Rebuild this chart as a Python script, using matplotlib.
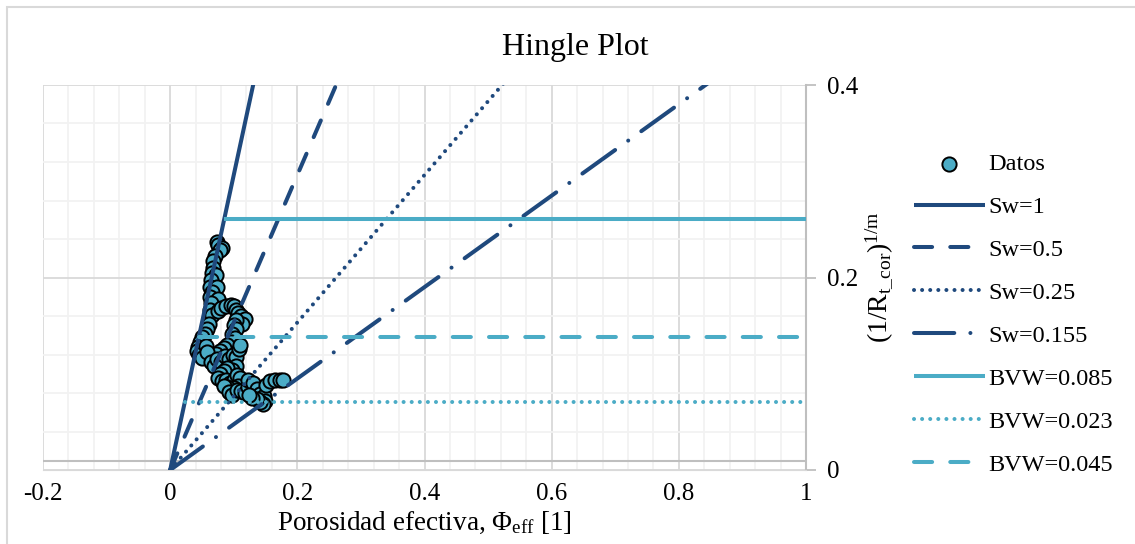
import numpy as np
import matplotlib
matplotlib.use('Agg')
import matplotlib.pyplot as plt
from matplotlib.patches import Rectangle
from matplotlib.ticker import MultipleLocator

plt.rcParams['font.family'] = ['Liberation Serif', 'DejaVu Serif']
plt.rcParams['mathtext.fontset'] = 'custom'
plt.rcParams['mathtext.rm'] = 'Liberation Serif'
plt.rcParams['mathtext.it'] = 'Liberation Serif:italic'

# datos del registro (phi efectiva, (1/Rt)^(1/m))
phi = [0.073, 0.076, 0.081, 0.078, 0.070, 0.068, 0.067, 0.066, 0.072, 0.065,
       0.063, 0.074, 0.066, 0.063, 0.075, 0.065, 0.062, 0.066, 0.075, 0.080,
       0.088, 0.096, 0.101, 0.104, 0.107, 0.112, 0.117, 0.113, 0.104, 0.100,
       0.103, 0.098, 0.102, 0.096, 0.090, 0.084, 0.078, 0.072, 0.061, 0.058,
       0.055, 0.050, 0.047, 0.044, 0.042, 0.045, 0.050, 0.057, 0.058, 0.064,
       0.069, 0.073, 0.080, 0.086, 0.092, 0.099, 0.104, 0.108, 0.110, 0.104,
       0.098, 0.090, 0.084, 0.078, 0.075, 0.081, 0.088, 0.094, 0.100, 0.105,
       0.110, 0.106, 0.100, 0.090, 0.084, 0.092, 0.098, 0.105, 0.112, 0.118,
       0.123, 0.123, 0.130, 0.136, 0.141, 0.147, 0.149, 0.146, 0.141, 0.136,
       0.128, 0.124, 0.150, 0.157, 0.165, 0.172, 0.178]
rt = [0.237, 0.234, 0.231, 0.229, 0.222, 0.217, 0.210, 0.205, 0.203, 0.197,
      0.190, 0.190, 0.185, 0.180, 0.178, 0.173, 0.166, 0.161, 0.165, 0.168,
      0.170, 0.171, 0.170, 0.166, 0.163, 0.160, 0.157, 0.152, 0.156, 0.151,
      0.146, 0.141, 0.137, 0.133, 0.130, 0.127, 0.124, 0.121, 0.152, 0.147,
      0.141, 0.138, 0.133, 0.128, 0.124, 0.119, 0.116, 0.129, 0.123, 0.112,
      0.108, 0.115, 0.112, 0.118, 0.115, 0.120, 0.117, 0.126, 0.130, 0.108,
      0.104, 0.106, 0.103, 0.100, 0.096, 0.092, 0.094, 0.090, 0.094, 0.099,
      0.096, 0.087, 0.085, 0.086, 0.087, 0.081, 0.078, 0.083, 0.082, 0.080,
      0.086, 0.093, 0.090, 0.084, 0.079, 0.077, 0.072, 0.069, 0.071, 0.074,
      0.075, 0.078, 0.088, 0.092, 0.094, 0.093, 0.094]

# lineas de saturacion y BVW
pend = 3.065  # pendiente de Sw=1
sw_vals = [1, 0.5, 0.25, 0.155]
sw_labels = ['Sw=1', 'Sw=0.5', 'Sw=0.25', 'Sw=0.155']
bvw_vals = [0.085, 0.023, 0.045]
bvw_labels = ['BVW=0.085', 'BVW=0.023', 'BVW=0.045']

navy = '#1F497D'
cyan = '#4BACC6'

fig = plt.figure(figsize=(11.35, 5.44), dpi=100)
fig.patches.append(Rectangle((7/1135, -0.1), 1.2, (544-7)/544 + 0.1,
                             transform=fig.transFigure, fill=False,
                             edgecolor='#D9D9D9', lw=1.5))
ax = fig.add_axes([43/1135, (544-470)/544, (806-43)/1135, (470-85)/544])

ax.scatter(phi, rt, s=105, c=cyan, edgecolors='black', linewidths=1.4,
           zorder=3, label='Datos')

styles = [dict(ls='-'),
          dict(dashes=(4.5, 4.5)),
          dict(dashes=(0.01, 2.0)),
          dict(dashes=(10, 4, 0.01, 4))]
lw = 2.9
for sw, lab, st in zip(sw_vals, sw_labels, styles):
    xx = np.array([0, 1])
    ax.plot(xx, pend*sw*xx, color=navy, lw=lw, label=lab, zorder=4,
            dash_capstyle='round', solid_capstyle='butt', **st)

bstyles = [dict(ls='-'), dict(dashes=(0.01, 2.0)), dict(dashes=(4.5, 4.5))]
for b, lab, st in zip(bvw_vals, bvw_labels, bstyles):
    ax.plot([b, 1], [pend*b, pend*b], color=cyan, lw=lw, label=lab, zorder=4,
            dash_capstyle='round', solid_capstyle='butt', **st)

ax.set_xlim(-0.2, 1)
ax.set_ylim(0, 0.4)
ax.xaxis.set_major_locator(MultipleLocator(0.2))
ax.xaxis.set_minor_locator(MultipleLocator(0.04))
ax.yaxis.set_major_locator(MultipleLocator(0.2))
ax.yaxis.set_minor_locator(MultipleLocator(0.04))
ax.grid(which='major', color='#D9D9D9', lw=1.3, zorder=0)
ax.grid(which='minor', color='#F2F2F2', lw=1.3, zorder=0)
ax.set_axisbelow(True)
ax.axhline(0.0095, color='#BFBFBF', lw=1.5, zorder=1)

ax.set_xticks([-0.2, 0, 0.2, 0.4, 0.6, 0.8, 1])
ax.set_xticklabels(['-0.2', '0', '0.2', '0.4', '0.6', '0.8', '1'])
ax.set_yticks([0, 0.2, 0.4])
ax.set_yticklabels(['0', '0.2', '0.4'])
ax.yaxis.tick_right()
ax.yaxis.set_label_position('right')
ax.tick_params(axis='x', which='both', length=0, labelsize=18, pad=9)
ax.tick_params(axis='y', which='major', length=7, width=1.3, color='#BFBFBF',
               labelsize=18, pad=8, direction='out')
ax.tick_params(axis='y', which='minor', length=0)
for s in ['top', 'left']:
    ax.spines[s].set_visible(False)
ax.spines['bottom'].set_color('#D9D9D9')
ax.spines['right'].set_color('#BFBFBF')
ax.spines['right'].set_linewidth(1.5)

ax.set_xlabel(r'Porosidad efectiva, $\Phi_{\mathrm{eff}}$ [1]', fontsize=19.5,
              labelpad=4)
ax.set_ylabel(r'$(1/\mathrm{R}_{\mathrm{t\_cor}})^{1/\mathrm{m}}$', fontsize=20,
              labelpad=4)
fig.text(575/1135, 1 - 47/544, 'Hingle Plot', fontsize=23,
         ha='center', va='center')

ax.legend(loc='upper left', bbox_to_anchor=(902/1135, 1 - 141/544),
          bbox_transform=fig.transFigure, frameon=False, fontsize=17.5,
          handlelength=2.9, handletextpad=0.15, labelspacing=0.86,
          borderpad=0, scatterpoints=1)

plt.savefig('out.png', dpi=100)
